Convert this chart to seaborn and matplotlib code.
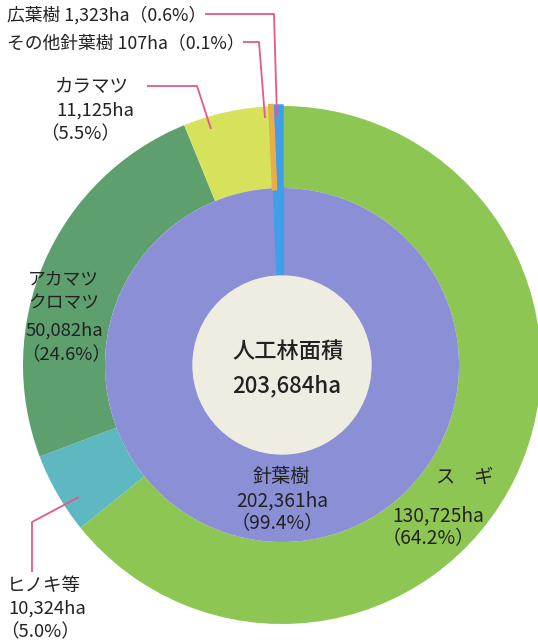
import matplotlib
matplotlib.use("Agg")
import matplotlib.pyplot as plt
import seaborn as sns
from matplotlib.patches import Circle

# data
outer_names = ["スギ", "ヒノキ等", "アカマツ・クロマツ", "カラマツ", "その他針葉樹", "広葉樹"]
outer_ha = [130725, 10324, 50082, 11125, 107, 1323]
outer_pct = [64.2, 5.0, 24.6, 5.5, 0.1, 0.6]
outer_colors = ["#8dc653", "#5db8c2", "#5e9f6e", "#d6e25c", "#e8ae48", "#3f9fe8"]

inner_names = ["針葉樹", "広葉樹"]
inner_ha = [202361, 1323]
inner_pct = [99.4, 0.6]
inner_colors = ["#8a8fd6", "#3f9fe8"]

total_ha = 203684

sns.set_theme(style="white")
plt.rcParams["font.family"] = ["Noto Sans CJK JP", "DejaVu Sans"]

W, H = 538, 642
fig = plt.figure(figsize=(W / 100, H / 100), dpi=100)
ax = fig.add_axes([0, 0, 1, 1])

def py(y):
    # pixel row -> data y
    return H - y

cx, cy = 282, py(365)
R_out, R_mid, R_in = 259, 177, 89

wedges, _ = ax.pie(outer_ha, radius=R_out, center=(cx, cy), startangle=90,
                   counterclock=False, colors=outer_colors,
                   wedgeprops=dict(width=R_out - R_mid, linewidth=0))
wedges2, _ = ax.pie(inner_ha, radius=R_mid, center=(cx, cy), startangle=90,
                    counterclock=False, colors=inner_colors,
                    wedgeprops=dict(width=R_mid - R_in, linewidth=0))

# the tiny slices are drawn a little wider so they stay visible
for w, lw, z in ((wedges[5], 2.5, 3), (wedges2[1], 3.0, 3), (wedges[4], 3.5, 3.5)):
    w.set_edgecolor(w.get_facecolor())
    w.set_linewidth(lw)
    w.set_zorder(z)

ax.add_patch(Circle((cx, cy), R_in, color="#efece2", zorder=4))

ax.set_xlim(0, W)
ax.set_ylim(0, H)
ax.set_aspect("equal")
ax.set_axis_off()

txt = "#222222"
pink = "#e8578c"

def fmt(v):
    return f"{v:,}ha"

def pct(p):
    return f"（{p}%）"

def line(xs, ys):
    ax.plot(xs, [py(y) for y in ys], color=pink, lw=1.3, zorder=6,
            solid_capstyle="butt")

def label(x, y, s, size=13.3, ha="left", weight="normal"):
    ax.text(x, py(y), s, ha=ha, va="center", fontsize=size, color=txt,
            fontweight=weight, zorder=7)

# center
label(288, 351, "人工林面積", size=16, ha="center", weight="medium")
label(287, 386, fmt(total_ha), size=16, ha="center", weight="medium")

# inner ring label
label(281, 476, inner_names[0], size=13.8, ha="center")
label(282, 501, fmt(inner_ha[0]), size=13.8, ha="center")
label(277, 524, pct(inner_pct[0]), size=13.8, ha="center")

# スギ
label(465, 477, "ス　ギ", size=13.8, ha="center")
label(392, 516, fmt(outer_ha[0]), size=13.8)
label(382, 539, pct(outer_pct[0]), size=13.8)

# アカマツ・クロマツ
label(99, 279, "アカマツ", size=12.8, ha="right")
label(99, 303, "クロマツ", size=12.8, ha="right")
label(103, 331, fmt(outer_ha[2]), ha="right")
label(111, 355, pct(outer_pct[2]), ha="right")

# カラマツ
label(55, 86, outer_names[3])
label(56, 111, fmt(outer_ha[3]))
label(40, 134, pct(outer_pct[3]))
line([147, 197, 211], [86, 86, 129])

# ヒノキ等
label(7, 586, outer_names[1])
label(8, 609, fmt(outer_ha[1]))
label(0, 632, pct(outer_pct[1]))
line([79, 32, 32], [497, 522, 572])

# 広葉樹 / その他針葉樹
label(7, 15, f"{outer_names[5]} {outer_ha[5]:,}ha{pct(outer_pct[5])}", size=12.8)
label(7, 43, f"{outer_names[4]} {outer_ha[4]}ha{pct(outer_pct[4])}", size=12.8)
line([205, 274, 277], [14, 14, 118])
line([243, 259, 265], [42, 42, 118])

fig.savefig("out.png", dpi=100)
